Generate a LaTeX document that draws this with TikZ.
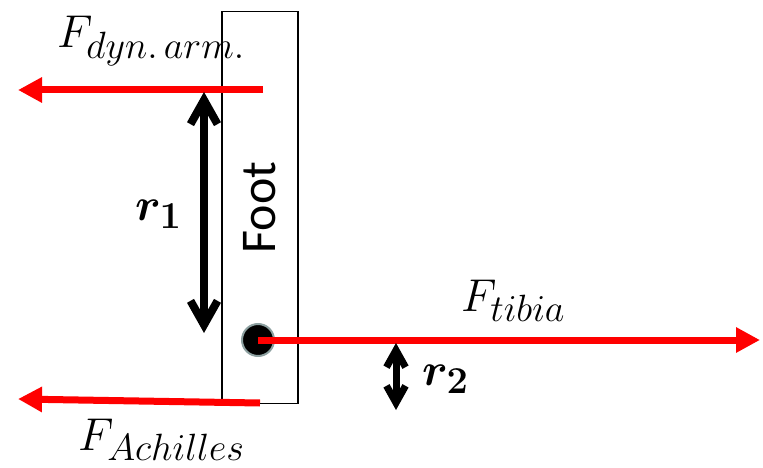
\RequirePackage{fix-cm}
\documentclass[tikz,border=0pt]{standalone}
\usepackage{bm}
\usepackage{fontspec}
\newfontfamily\footfont{Carlito}
\usetikzlibrary{arrows.meta}
\definecolor{pivotgray}{RGB}{140,160,160}
\DeclareMathSizes{46}{46}{38}{30}

\begin{document}
\begin{tikzpicture}[
    x=1pt, y=-1pt,
    every node/.style={inner sep=0pt},
    footbox/.style={rectangle, draw=black, line width=1.8pt, rotate=90,
        minimum width=392pt, minimum height=76pt,
        font=\footfont\fontsize{50}{56}\selectfont},
    pivot/.style={circle, fill=black, draw=pivotgray, line width=2pt,
        minimum size=32pt},
    lbl/.style={anchor=base west, font=\fontsize{46}{52}\selectfont},
    force/.style={draw=red, line width=7pt,
        -{Triangle[length=24pt, width=24pt]}},
    lever/.style={draw=black, line width=8pt,
        {Straight Barb[length=24pt, width=27pt]}-{Straight Barb[length=24pt, width=27pt]}},
    shortlever/.style={draw=black, line width=7pt,
        {Straight Barb[length=17pt, width=19pt]}-{Straight Barb[length=17pt, width=19pt]}},
]
\useasboundingbox (0,0) rectangle (763,468);

% ===== foot and ankle pivot =====
\node[footbox] (foot) at (260,207.5) {Foot};
\node[pivot] (ankle) at (258,340) {};

% ===== forces =====
\coordinate (dynstart) at (263,90);
\coordinate (dynend)   at (18,90);
\coordinate (tibend)   at (760,340);
\coordinate (achstart) at (260,403);
\coordinate (achend)   at (18,399);

\draw[force] (dynstart) -- (dynend);
\draw[force] (ankle.center) -- (tibend);
\draw[force] (achstart) -- (achend);

\node[lbl] (fdyn) at (57,48)  {$F_{dyn.\,arm.}$};
\node[lbl] (ftib) at (461,311) {$F_{tibia}$};
\node[lbl] (fach) at (78,450) {$F_{Achilles}$};

% ===== moment arms =====
\coordinate (r1top) at (204,92);
\coordinate (r1bot) at (204,333);
\coordinate (r2top) at (396,343);
\coordinate (r2bot) at (396,410);

\draw[lever] (r1top) -- (r1bot);
\draw[shortlever] (r2top) -- (r2bot);

\node[lbl] (rone) at (135,220) {$\bm{r_1}$};
\node[lbl] (rtwo) at (422,385) {$\bm{r_2}$};

\end{tikzpicture}
\end{document}
